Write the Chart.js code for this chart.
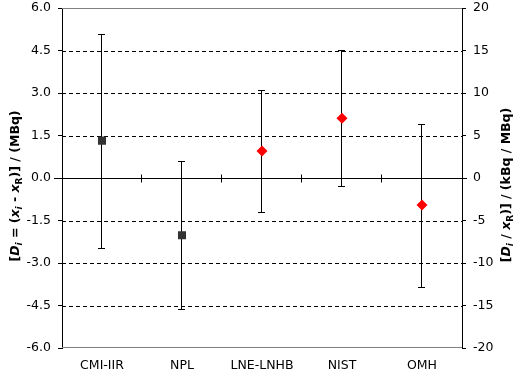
<!DOCTYPE html>
<html>
<head>
<meta charset="utf-8">
<script src="https://cdn.jsdelivr.net/npm/chart.js@4/dist/chart.umd.min.js"></script>
<style>
  html, body { margin: 0; padding: 0; background: #fff; }
  #wrap { width: 522px; height: 376px; position: relative; }
</style>
</head>
<body>
<div id="wrap"><canvas id="c"></canvas></div>
<script>
// --- data ---
const labs = ['CMI-IIR', 'NPL', 'LNE-LNHB', 'NIST', 'OMH'];
const vals = [1.32, -2.02, 0.95, 2.11, -0.95];
const lows = [-2.46, -4.64, -1.20, -0.27, -3.84];
const highs = [5.07, 0.60, 3.10, 4.53, 1.89];
const mark = ['rect', 'rect', 'rectRot', 'rectRot', 'rectRot'];
const markCol = ['#333333', '#333333', '#ff0000', '#ff0000', '#ff0000'];

const FONT = 'DejaVu Sans';

// error bars, dashed grid, zero line with category ticks
const bars = {
  id: 'bars',
  beforeDatasetsDraw(chart) {
    const { ctx, chartArea: a, scales } = chart;
    const y = scales.y, x = scales.x;
    ctx.save();
    ctx.lineWidth = 1;
    // dashed grid
    ctx.strokeStyle = '#000';
    ctx.setLineDash([4, 3]);
    y.ticks.forEach(t => {
      if (t.value === 0 || Math.abs(t.value) === 6) return;
      const py = Math.round(y.getPixelForValue(t.value)) + 0.5;
      ctx.beginPath(); ctx.moveTo(a.left, py); ctx.lineTo(a.right, py); ctx.stroke();
    });
    ctx.setLineDash([]);
    // top / bottom frame
    ctx.strokeStyle = '#808080';
    [6, -6].forEach(v => {
      const py = Math.round(y.getPixelForValue(v)) - 0.5 + (v > 0 ? 1 : 0);
      ctx.beginPath(); ctx.moveTo(a.left, py); ctx.lineTo(a.right, py); ctx.stroke();
    });
    // zero line
    ctx.strokeStyle = '#000';
    const y0 = Math.round(y.getPixelForValue(0)) + 0.5;
    ctx.beginPath(); ctx.moveTo(a.left - 8, y0); ctx.lineTo(a.right + 5, y0); ctx.stroke();
    for (let i = 0; i < labs.length - 1; i++) {
      const bx = Math.round((x.getPixelForValue(i) + x.getPixelForValue(i + 1)) / 2) - 0.5;
      ctx.beginPath(); ctx.moveTo(bx, y0 - 4); ctx.lineTo(bx, y0 + 4); ctx.stroke();
    }
    // error bars
    labs.forEach((l, i) => {
      const px = Math.round(x.getPixelForValue(i)) - 0.5;
      const t = Math.round(y.getPixelForValue(highs[i])) + 0.5;
      const b = Math.round(y.getPixelForValue(lows[i])) + 0.5;
      ctx.beginPath();
      ctx.moveTo(px, t); ctx.lineTo(px, b);
      ctx.moveTo(px - 3.5, t); ctx.lineTo(px + 3.5, t);
      ctx.moveTo(px - 3.5, b); ctx.lineTo(px + 3.5, b);
      ctx.stroke();
    });
    ctx.restore();
  }
};

// rich axis titles (italic letters, subscripts)
const leftTitle = [
  ['[', 0, 0], ['D', 1, 0], ['i', 1, 1], [' = (', 0, 0], ['x', 1, 0], ['i', 1, 1],
  [' - ', 0, 0], ['x', 1, 0], ['R', 0, 1], [')] / (MBq)', 0, 0]
];
const rightTitle = [
  ['[', 0, 0], ['D', 1, 0], ['i', 1, 1], [' / ', 0, 0], ['x', 1, 0], ['R', 0, 1],
  [')] / (kBq / MBq)', 0, 0]
];
function richText(ctx, parts, cx, cy) {
  const fnt = (it, sub) => (it ? 'italic ' : '') + 'bold ' + (sub ? 9 : 12.5) + 'px "' + FONT + '"';
  let w = 0;
  parts.forEach(p => { ctx.font = fnt(p[1], p[2]); w += ctx.measureText(p[0]).width; });
  ctx.save();
  ctx.translate(cx, cy);
  ctx.rotate(-Math.PI / 2);
  ctx.fillStyle = '#000';
  ctx.textBaseline = 'alphabetic';
  let x = -w / 2;
  parts.forEach(p => {
    ctx.font = fnt(p[1], p[2]);
    ctx.fillText(p[0], x, p[2] ? 7 : 4);
    x += ctx.measureText(p[0]).width;
  });
  ctx.restore();
}
const titles = {
  id: 'titles',
  afterDraw(chart) {
    richText(chart.ctx, leftTitle, 15, 186);
    richText(chart.ctx, rightTitle, 506, 185);
  }
};

const fitSide = w => s => { s.width = w; s.paddingTop = 0; s.paddingBottom = 0; };

new Chart(document.getElementById('c'), {
  type: 'line',
  data: {
    labels: labs,
    datasets: [{
      data: vals,
      showLine: false,
      pointStyle: mark,
      pointRadius: mark.map(m => m === 'rect' ? 5.7 : 5.5),
      pointHoverRadius: mark.map(m => m === 'rect' ? 5.7 : 5.5),
      pointBackgroundColor: markCol,
      pointBorderColor: markCol,
      pointBorderWidth: 0,
      yAxisID: 'y'
    }]
  },
  options: {
    responsive: true,
    maintainAspectRatio: false,
    animation: false,
    events: [],
    layout: { padding: { top: 8, left: 0, right: 0, bottom: 0 } },
    plugins: { legend: { display: false }, tooltip: { enabled: false } },
    scales: {
      x: {
        type: 'category',
        offset: true,
        grid: { display: false, drawTicks: false },
        border: { display: false },
        ticks: { color: '#000', font: { family: FONT, size: 12.5 }, padding: 10, maxRotation: 0 },
        afterFit: s => { s.height = 28; }
      },
      y: {
        position: 'left',
        min: -6, max: 6,
        ticks: { stepSize: 1.5, color: '#000', font: { family: FONT, size: 12.5 }, padding: 7,
          callback: v => Number(v).toFixed(1) },
        grid: { drawOnChartArea: false, drawTicks: true, tickLength: 4, color: '#000' },
        border: { color: '#000' },
        afterFit: fitSide(62)
      },
      y1: {
        position: 'right',
        min: -20, max: 20,
        ticks: { stepSize: 5, color: '#000', font: { family: FONT, size: 12.5 }, padding: 7 },
        grid: { drawOnChartArea: false, drawTicks: true, tickLength: 4, color: '#000' },
        border: { color: '#000' },
        afterFit: fitSide(60)
      }
    }
  },
  plugins: [bars, titles]
});
</script>
</body>
</html>
